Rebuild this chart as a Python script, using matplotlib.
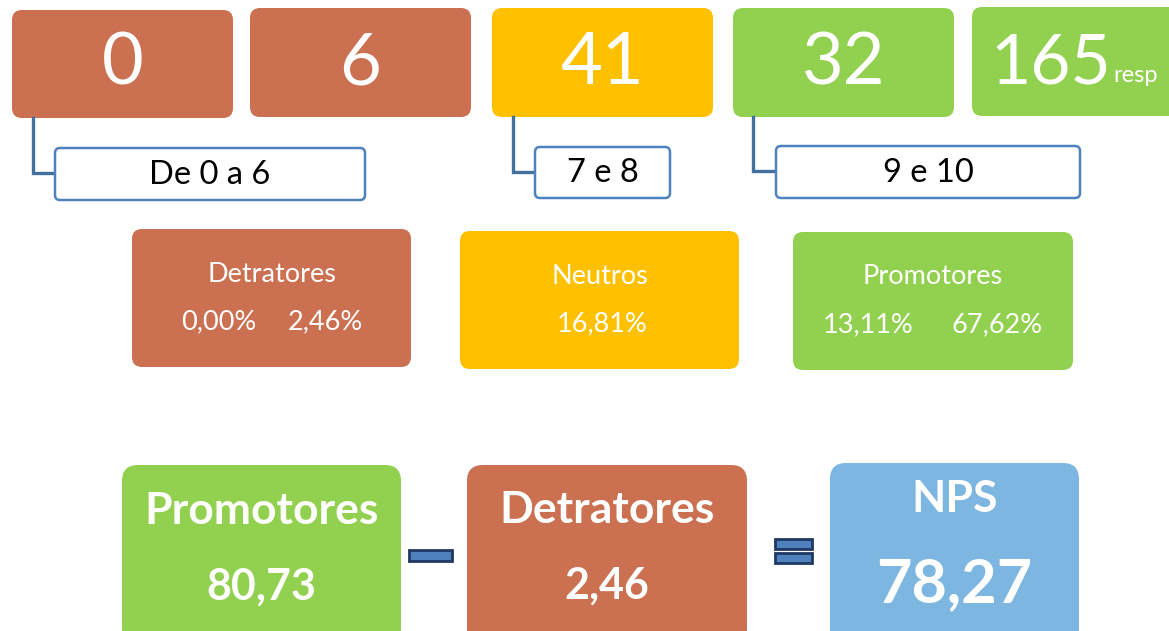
import matplotlib
matplotlib.use("Agg")
import matplotlib.pyplot as plt
from matplotlib.patches import FancyBboxPatch, Rectangle

plt.rcParams['font.family'] = ['Lato', 'DejaVu Sans']

# dados
top_counts = [0, 6, 41, 32]
total_resp = 165
ranges = ['De 0 a 6', '7 e 8', '9 e 10']
groups = ['Detratores', 'Neutros', 'Promotores']
group_pcts = [[0.00, 2.46], [16.81], [13.11, 67.62]]
nps_labels = ['Promotores', 'Detratores', 'NPS']
nps_values = [80.73, 2.46, 78.27]

# cores
ORANGE = '#CB7050'
YELLOW = '#FFC000'
GREEN = '#92D050'
BLUE = '#7DB6E0'
LINE = '#4F81BD'
top_colors = [ORANGE, ORANGE, YELLOW, GREEN, GREEN]
group_colors = [ORANGE, YELLOW, GREEN]
nps_colors = [GREEN, ORANGE, BLUE]


def fmt(v):
    return f"{v:.2f}".replace('.', ',')


def box(ax, x0, y0, x1, y1, color, r=10, ec='none', lw=0):
    p = FancyBboxPatch((x0, y0), x1 - x0, y1 - y0,
                       boxstyle=f"round,pad=0,rounding_size={r}",
                       fc=color, ec=ec, lw=lw)
    ax.add_patch(p)


W, H = 1169, 631
fig = plt.figure(figsize=(W / 100, H / 100), dpi=100)
ax = fig.add_axes([0, 0, 1, 1])
ax.set_xlim(0, W)
ax.set_ylim(H, 0)
ax.axis('off')

# linha de cima: contagens
top_x = [(12, 233), (250, 471), (492, 713), (733, 954), (972, 1185)]
top_y = [(10, 118), (8, 117), (8, 117), (8, 117), (7, 116)]
for (x0, x1), (y0, y1), c in zip(top_x, top_y, top_colors):
    box(ax, x0, y0, x1, y1, c)
for (x0, x1), (y0, y1), n in zip(top_x[:4], top_y[:4], top_counts):
    ax.text((x0 + x1) / 2, 64, str(n), color='white', fontsize=52,
            ha='center', va='center')
ax.text(990, 64, str(total_resp), color='white', fontsize=50,
        ha='left', va='center')
ax.text(1113, 76, 'resp', color='white', fontsize=17, ha='left', va='center')

# faixas de notas com conectores
lab_x = [(55, 365), (535, 670), (776, 1080)]
lab_y = [(148, 200), (147, 198), (146, 198)]
conn_x = [33, 513, 753]
conn_y0 = [118, 117, 117]
for (x0, x1), (y0, y1), cx, cy, t in zip(lab_x, lab_y, conn_x, conn_y0, ranges):
    ym = (y0 + y1) / 2 - 1
    ax.plot([cx, cx, x0], [cy, ym, ym], color='#41719C', lw=2.4,
            solid_joinstyle='miter', zorder=1)
    box(ax, x0, y0, x1, y1, 'white', r=5, ec=LINE, lw=1.8)
    ax.text((x0 + x1) / 2, ym + 2, t, color='black', fontsize=23.5,
            ha='center', va='center')

# grupos com percentuais
grp_x = [(132, 411), (460, 739), (793, 1073)]
grp_y = [(229, 367), (231, 369), (232, 370)]
pct_x = [[219, 325], [602], [868, 997]]
for (x0, x1), (y0, y1), c, g, pcts, px in zip(grp_x, grp_y, group_colors,
                                              groups, group_pcts, pct_x):
    box(ax, x0, y0, x1, y1, c, r=10)
    ax.text((x0 + x1) / 2, y0 + 45, g, color='white', fontsize=19.5,
            ha='center', va='center')
    for v, xx in zip(pcts, px):
        ax.text(xx, y0 + 93, fmt(v) + '%', color='white', fontsize=19.5,
                ha='center', va='center')

# cálculo do NPS
nps_x = [(122, 401), (467, 747), (830, 1079)]
nps_y = [(465, 645), (465, 645), (463, 645)]
title_y = [511, 510, 499]
val_y = [587, 586, 584]
val_size = [31, 31, 44]
for (x0, x1), (y0, y1), c, lab, v, ty, vy, vs in zip(nps_x, nps_y, nps_colors,
                                                     nps_labels, nps_values,
                                                     title_y, val_y, val_size):
    box(ax, x0, y0, x1, y1, c, r=16)
    ax.text((x0 + x1) / 2, ty, lab, color='white', fontsize=32,
            fontweight='bold', ha='center', va='center')
    ax.text((x0 + x1) / 2, vy, fmt(v), color='white', fontsize=vs,
            fontweight='bold', ha='center', va='center')

# sinais de menos e igual
ax.add_patch(Rectangle((409, 550), 43, 11, fc=LINE, ec='#1F3864', lw=2))
ax.add_patch(Rectangle((775, 539), 37, 10, fc=LINE, ec='#1F3864', lw=2))
ax.add_patch(Rectangle((775, 553), 37, 10, fc=LINE, ec='#1F3864', lw=2))

fig.savefig('out.png', dpi=100)
